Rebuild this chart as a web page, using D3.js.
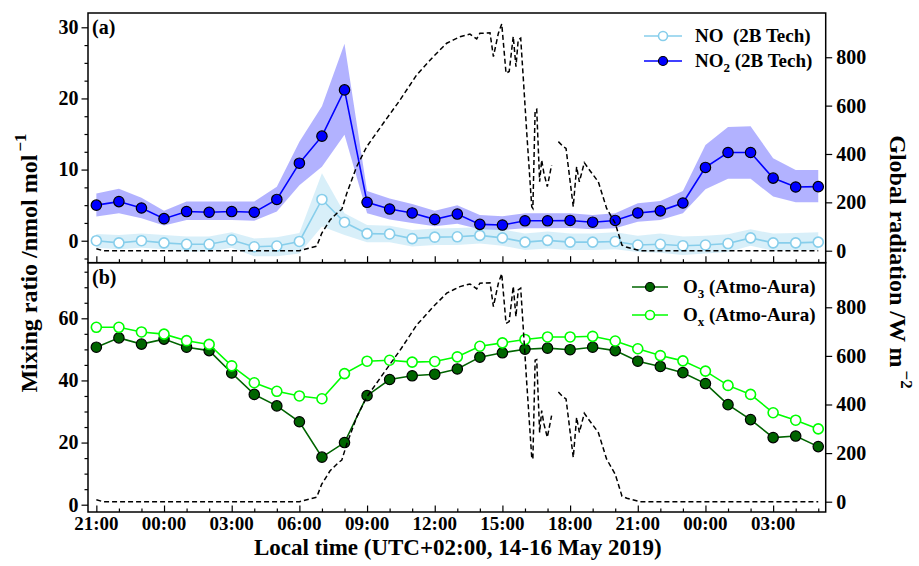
<!DOCTYPE html>
<html><head><meta charset="utf-8">
<script src="https://cdn.jsdelivr.net/npm/d3@7"></script>
<style>
html,body{margin:0;padding:0;background:#fff;}
text{font-family:"Liberation Serif","Times New Roman",serif;font-weight:bold;fill:#000;}
</style></head>
<body><svg id="chart" width="919" height="566"></svg>
<script>
// ---------- DATA ----------
const hours = d3.range(0, 33); // hourly, starting 21:00 (14 May)
const xTickHours = [0,3,6,9,12,15,18,21,24,27,30];
const xTickLabels = ["21:00","00:00","03:00","06:00","09:00","12:00","15:00","18:00","21:00","00:00","03:00"];

const NO2 = [5.0,5.5,4.6,3.1,4.1,4.0,4.1,4.0,5.8,10.9,14.7,21.2,5.4,4.45,3.9,3.0,3.75,2.3,2.2,2.8,2.8,2.85,2.6,2.85,3.9,4.2,5.3,10.3,12.4,12.4,8.8,7.55,7.6];
const NO2_upper = [6.65,7.3,6.05,4.2,5.5,5.5,5.5,5.5,7.6,13.9,18.9,27.7,7.0,5.95,5.15,4.2,5.0,3.6,3.45,3.85,3.85,3.85,3.6,3.85,5.25,5.6,7.0,13.45,16.0,16.1,11.6,9.95,9.95];
const NO2_lower = [3.4,3.85,3.15,2.15,2.9,2.9,2.9,2.8,4.1,7.8,10.4,14.9,3.85,3.0,2.5,2.05,2.4,1.6,1.5,1.75,1.75,1.8,1.6,1.75,2.65,2.9,3.85,7.25,8.7,8.7,6.2,5.4,5.4];

const NO = [0.0,-0.3,0.0,-0.3,-0.5,-0.5,0.1,-0.85,-0.75,-0.1,5.8,2.6,1.0,0.95,0.3,0.5,0.55,0.75,0.4,-0.2,0.05,-0.2,-0.2,-0.1,-0.6,-0.5,-0.7,-0.6,-0.4,0.4,-0.3,-0.3,-0.2];
const NO_upper = [0.95,0.8,1.0,0.8,0.6,0.6,1.2,0.3,0.5,1.1,9.5,3.85,2.2,2.1,1.5,1.7,1.8,1.9,1.6,1.0,1.3,1.0,1.0,1.2,0.7,1.0,0.6,0.7,0.9,1.6,1.0,1.1,1.2];
const NO_lower = [-1.0,-1.2,-1.0,-1.2,-1.5,-1.5,-1.0,-2.2,-2.2,-1.8,2.0,0.8,-0.2,-0.2,-0.8,-0.6,-0.6,-0.4,-0.7,-1.3,-1.1,-1.3,-1.3,-1.2,-1.6,-1.7,-2.0,-1.8,-1.6,-0.7,-1.4,-1.3,-1.3];

const O3 = [50.7,53.7,51.7,53.3,50.7,49.6,42.4,35.5,31.8,26.7,15.3,20.0,35.1,40.3,41.5,42.0,43.7,47.5,48.9,50.05,50.4,49.9,50.7,49.6,46.2,44.5,42.5,39.0,32.2,27.4,21.6,22.1,18.7];
const Ox = [57.1,57.1,55.6,54.9,52.8,51.6,44.7,39.25,36.5,35.0,34.1,42.2,46.2,46.5,45.9,46.1,47.6,51.0,52.1,53.2,54.0,54.0,54.2,52.7,50.2,48.0,46.3,43.0,38.4,35.5,29.6,27.2,24.4];

// Global radiation (hours after 21:00, W m-2); null = missing data
const radHours  = [0,0.3,9.0,9.77,9.99,10.36,10.73,10.88,11.1,11.54,11.99,12.72,13.46,14.2,14.94,15.53,15.83,16.12,16.56,16.86,17.0,17.45,17.6,17.82,17.97,18.16,18.3,18.48,18.6,18.7,18.81,18.93,19.08,19.3,19.35,19.45,19.52,19.65,19.74,19.84,19.99,20.18,20.3,20.48,20.7,20.82,21.14,21.29,21.41,21.63,21.81,22.25,22.62,23.0,23.3,23.52,24.1,32.0];
const radValues = [8,0,0,19,72,127,161,171,237,348,431,527,623,727,803,858,872,885,896,876,899,901,803,899,938,734,741,886,761,872,879,706,486,182,175,582,585,285,375,320,265,354,null,451,430,423,182,347,285,364,340,285,175,113,23,14,0,0];

// ---------- LAYOUT ----------
const svg = d3.select("#chart");
const L = 88, R = 825.7;
const panels = [
  {top: 13, bot: 262.7, yDom: [-3.09, 32.01], rDom: [-49.6, 983], major: [0,10,20,30], minorStep: 2.5, label: "(a)"},
  {top: 262.7, bot: 512, yDom: [-2.35, 77.9], rDom: [-42.4, 983.5], major: [0,20,40,60], minorStep: 5, label: "(b)"}
];
const x = d3.scaleLinear().domain([-0.37, 32.33]).range([L, R]);
panels.forEach(p => {
  p.y = d3.scaleLinear().domain(p.yDom).range([p.bot, p.top]);
  p.r = d3.scaleLinear().domain(p.rDom).range([p.bot, p.top]);
});

const defs = svg.append("defs");
panels.forEach((p, i) => {
  defs.append("clipPath").attr("id", "clip" + i).append("rect")
    .attr("x", L).attr("y", p.top).attr("width", R - L).attr("height", p.bot - p.top);
});

function drawSeries(g, p, vals, lineColor, markerFill, markerStroke, r) {
  const line = d3.line().x((d, i) => x(hours[i])).y(d => p.y(d));
  g.append("path").datum(vals).attr("d", line).attr("fill", "none")
    .attr("stroke", lineColor).attr("stroke-width", 1.6);
  g.selectAll(null).data(vals).enter().append("circle")
    .attr("cx", (d, i) => x(hours[i])).attr("cy", d => p.y(d)).attr("r", r)
    .attr("fill", markerFill).attr("stroke", markerStroke).attr("stroke-width", markerFill === "#fff" ? 1.6 : 1.2);
}
function drawBand(g, p, up, lo, color) {
  const area = d3.area().x((d, i) => x(hours[i])).y0((d, i) => p.y(lo[i])).y1(d => p.y(d));
  g.append("path").datum(up).attr("d", area).attr("fill", color).attr("stroke", "none");
}
function drawRad(g, p) {
  const pts = radHours.map((h, i) => [h, radValues[i]]);
  const line = d3.line().defined(d => d[1] !== null).x(d => x(d[0])).y(d => p.r(d[1]));
  g.append("path").datum(pts).attr("d", line).attr("fill", "none")
    .attr("stroke", "#000").attr("stroke-width", 1.5).attr("stroke-dasharray", "5,3");
}

// ---------- PANEL A ----------
const pa = panels[0];
const ga = svg.append("g").attr("clip-path", "url(#clip0)");
drawBand(ga, pa, NO2_upper, NO2_lower, "rgba(0,0,255,0.3)");
drawBand(ga, pa, NO_upper, NO_lower, "rgba(135,206,235,0.32)");
drawSeries(ga, pa, NO, "#87CEEB", "#fff", "#87CEEB", 5);
drawSeries(ga, pa, NO2, "#0000FF", "#0000FF", "#000", 5.2);
drawRad(ga, pa);

// ---------- PANEL B ----------
const pb = panels[1];
const gb = svg.append("g").attr("clip-path", "url(#clip1)");
drawSeries(gb, pb, O3, "#006400", "#006400", "#000", 5.2);
drawSeries(gb, pb, Ox, "#00FF00", "#fff", "#00FF00", 5);
drawRad(gb, pb);

// ---------- AXES ----------
const fs = 20;
panels.forEach((p, i) => {
  const la = svg.append("g").attr("transform", `translate(${L},0)`)
    .call(d3.axisLeft(p.y).tickValues(p.major).tickSize(6.5).tickPadding(3).tickFormat(d3.format("d")));
  la.select(".domain").remove();
  la.selectAll("text").style("font-size", fs + "px");
  const minors = d3.range(Math.ceil(p.yDom[0] / p.minorStep) * p.minorStep, p.yDom[1], p.minorStep)
    .filter(v => !p.major.some(m => Math.abs(m - v) < 1e-6));
  svg.append("g").attr("transform", `translate(${L},0)`)
    .call(d3.axisLeft(p.y).tickValues(minors).tickSize(3.5).tickFormat(""))
    .select(".domain").remove();
  const ra = svg.append("g").attr("transform", `translate(${R},0)`)
    .call(d3.axisRight(p.r).tickValues([0,200,400,600,800]).tickSize(6.5).tickPadding(4).tickFormat(d3.format("d")));
  ra.select(".domain").remove();
  ra.selectAll("text").style("font-size", fs + "px");
  svg.append("g").attr("transform", `translate(0,${p.bot})`)
    .call(d3.axisBottom(x).tickValues(xTickHours).tickSize(-6.5).tickFormat(""))
    .select(".domain").remove();
  svg.append("g").attr("transform", `translate(0,${p.bot})`)
    .call(d3.axisBottom(x).tickValues(hours.filter(h => h % 3 !== 0)).tickSize(-3.5).tickFormat(""))
    .select(".domain").remove();
  svg.append("rect").attr("x", L).attr("y", p.top).attr("width", R - L).attr("height", p.bot - p.top)
    .attr("fill", "none").attr("stroke", "#000").attr("stroke-width", 1.5);
  svg.append("text").attr("x", L + 4).attr("y", p.top + 21).style("font-size", "20px").text(p.label);
});
svg.selectAll(".tick line").attr("stroke", "#000").attr("stroke-width", 1.2);

// x tick labels
svg.append("g").selectAll("text").data(xTickHours).enter().append("text")
  .attr("x", d => x(d)).attr("y", 530).attr("text-anchor", "middle")
  .style("font-size", "19px").text((d, i) => xTickLabels[i]);

// axis titles
svg.append("text").attr("x", (L + R) / 2 + 1).attr("y", 555).attr("text-anchor", "middle")
  .style("font-size", "23px").text("Local time (UTC+02:00, 14-16 May 2019)");

const yt = svg.append("text").attr("transform", "translate(37,263) rotate(-90)").attr("text-anchor", "middle")
  .style("font-size", "24px");
yt.append("tspan").text("Mixing ratio /nmol mol");
yt.append("tspan").attr("dy", -11).attr("dx", 3).style("font-size", "17px").text("\u22121");

const rt = svg.append("text").attr("transform", "translate(890,262) rotate(90)").attr("text-anchor", "middle")
  .style("font-size", "24px");
rt.append("tspan").text("Global radiation /W m");
rt.append("tspan").attr("dy", -11).attr("dx", 3).style("font-size", "17px").text("\u22122");

// ---------- LEGENDS ----------
function legendItem(y, color, fill, stroke, x0, x1, tx, parts) {
  svg.append("line").attr("x1", x0).attr("x2", x1).attr("y1", y).attr("y2", y)
    .attr("stroke", color).attr("stroke-width", 1.6);
  svg.append("circle").attr("cx", (x0 + x1) / 2).attr("cy", y).attr("r", 4.5)
    .attr("fill", fill).attr("stroke", stroke).attr("stroke-width", fill === "#fff" ? 1.6 : 1.2);
  const t = svg.append("text").attr("x", tx).attr("y", y + 6).style("font-size", "19px").style("white-space", "pre");
  parts.forEach(pt => {
    const s = t.append("tspan").text(pt.t);
    if (pt.sub) s.attr("dy", 5).style("font-size", "13px");
    if (pt.up) s.attr("dy", -5);
  });
}
legendItem(36, "#87CEEB", "#fff", "#87CEEB", 644, 682, 695, [{t: "NO  (2B Tech)"}]);
legendItem(61, "#0000FF", "#0000FF", "#000", 644, 682, 695, [{t: "NO"}, {t: "2", sub: true}, {t: " (2B Tech)", up: true}]);
legendItem(287, "#006400", "#006400", "#000", 632, 668, 683, [{t: "O"}, {t: "3", sub: true}, {t: " (Atmo-Aura)", up: true}]);
legendItem(315, "#00FF00", "#fff", "#00FF00", 632, 668, 683, [{t: "O"}, {t: "x", sub: true}, {t: " (Atmo-Aura)", up: true}]);
</script></body></html>
